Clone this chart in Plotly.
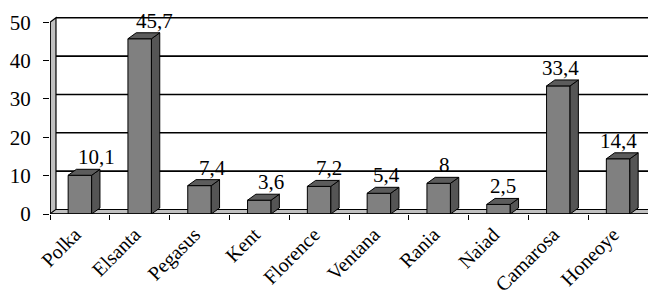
import plotly.graph_objects as go

categories = ["Polka", "Elsanta", "Pegasus", "Kent", "Florence", "Ventana",
              "Rania", "Naiad", "Camarosa", "Honeoye"]
values = [10.1, 45.7, 7.4, 3.6, 7.2, 5.4, 8, 2.5, 33.4, 14.4]
y_ticks = [0, 10, 20, 30, 40, 50]

FONT = "Liberation Serif"
FS = 21
n = len(categories)
xs = list(range(n))

# geometry (in data units) for the pseudo-3D look
bw = 0.393          # bar front width
bdx, bdy = 0.139, 1.56   # bar depth offset
wdx, wdy = 0.10, 1.17    # wall depth offset
x0, x1 = -0.5, n - 0.5
ymax = y_ticks[-1]

fig = go.Figure()

# front faces
fig.add_trace(go.Bar(x=xs, y=values, width=bw, marker=dict(color="#808080",
                     line=dict(color="black", width=1)), hoverinfo="skip"))

# side faces
sx, sy = [], []
for x, v in zip(xs, values):
    r = x + bw / 2
    sx += [r, r + bdx, r + bdx, r, r, None]
    sy += [0, bdy, v + bdy, v, 0, None]
fig.add_trace(go.Scatter(x=sx, y=sy, mode="lines", fill="toself",
                         fillcolor="#555555", line=dict(color="black", width=1),
                         hoverinfo="skip"))
# top faces
tx, ty = [], []
for x, v in zip(xs, values):
    l, r = x - bw / 2, x + bw / 2
    tx += [l, r, r + bdx, l + bdx, l, None]
    ty += [v, v, v + bdy, v + bdy, v, None]
fig.add_trace(go.Scatter(x=tx, y=ty, mode="lines", fill="toself",
                         fillcolor="#5c5c5c", line=dict(color="black", width=1),
                         hoverinfo="skip"))

shapes = []
# back gridlines
for t in y_ticks[1:]:
    shapes.append(dict(type="line", xref="x", yref="y", layer="below",
                       x0=x0 + wdx, x1=x1 + wdx, y0=t + wdy, y1=t + wdy,
                       line=dict(color="black", width=1.6)))
# left wall
shapes.append(dict(type="path", xref="x", yref="y", layer="below",
                   path=f"M {x0},0 L {x0+wdx},{wdy} L {x0+wdx},{ymax+wdy} L {x0},{ymax} Z",
                   fillcolor="#c0c0c0", line=dict(color="black", width=1.2)))
# floor
shapes.append(dict(type="path", xref="x", yref="y", layer="below",
                   path=f"M {x0},0 L {x1},0 L {x1+wdx},{wdy} L {x0+wdx},{wdy} Z",
                   fillcolor="#c0c0c0", line=dict(color="black", width=1)))
# front axis lines
shapes.append(dict(type="line", xref="x", yref="y", layer="above",
                   x0=x0, x1=x0, y0=0, y1=ymax, line=dict(color="black", width=1.5)))
shapes.append(dict(type="line", xref="x", yref="y", layer="above",
                   x0=x0, x1=x1, y0=0, y1=0, line=dict(color="black", width=1.5)))

annotations = []
for i, (x, v) in enumerate(zip(xs, values)):
    off = (17 - 1.8 * i) / 59.8
    annotations.append(dict(x=x + off, y=v + bdy, xref="x", yref="y",
                            text=f"{v:g}".replace(".", ","), showarrow=False,
                            yanchor="bottom", xanchor="center", yshift=-2,
                            font=dict(family=FONT, size=FS, color="black")))

fig.update_layout(
    width=648, height=294,
    margin=dict(l=50, r=0, t=10, b=80, autoexpand=False),
    paper_bgcolor="white", plot_bgcolor="white",
    showlegend=False,
    shapes=shapes, annotations=annotations,
    font=dict(family=FONT, size=FS, color="black"),
    xaxis=dict(range=[x0, x1], tickvals=xs, ticktext=categories, tickangle=-45,
               ticks="", showgrid=False, zeroline=False, showline=False,
               automargin=False, ticklabelstandoff=4, ticklabelshift=-5,
               tickfont=dict(family=FONT, size=20, color="black"),
               minor=dict(ticks="outside", tick0=-0.5, dtick=1, ticklen=5,
                          tickcolor="black", tickwidth=1, showgrid=False)),
    yaxis=dict(range=[0, 53.2], tickvals=y_ticks, ticks="outside", ticklen=6,
               tickcolor="black", tickwidth=1, showgrid=False, zeroline=False,
               showline=False, ticklabelstandoff=8, automargin=False,
               tickfont=dict(family=FONT, size=FS, color="black")),
)

fig.write_html("out.html", config={"displayModeBar": False},
               post_script="document.body.style.margin='0px';document.body.style.overflow='hidden';")
